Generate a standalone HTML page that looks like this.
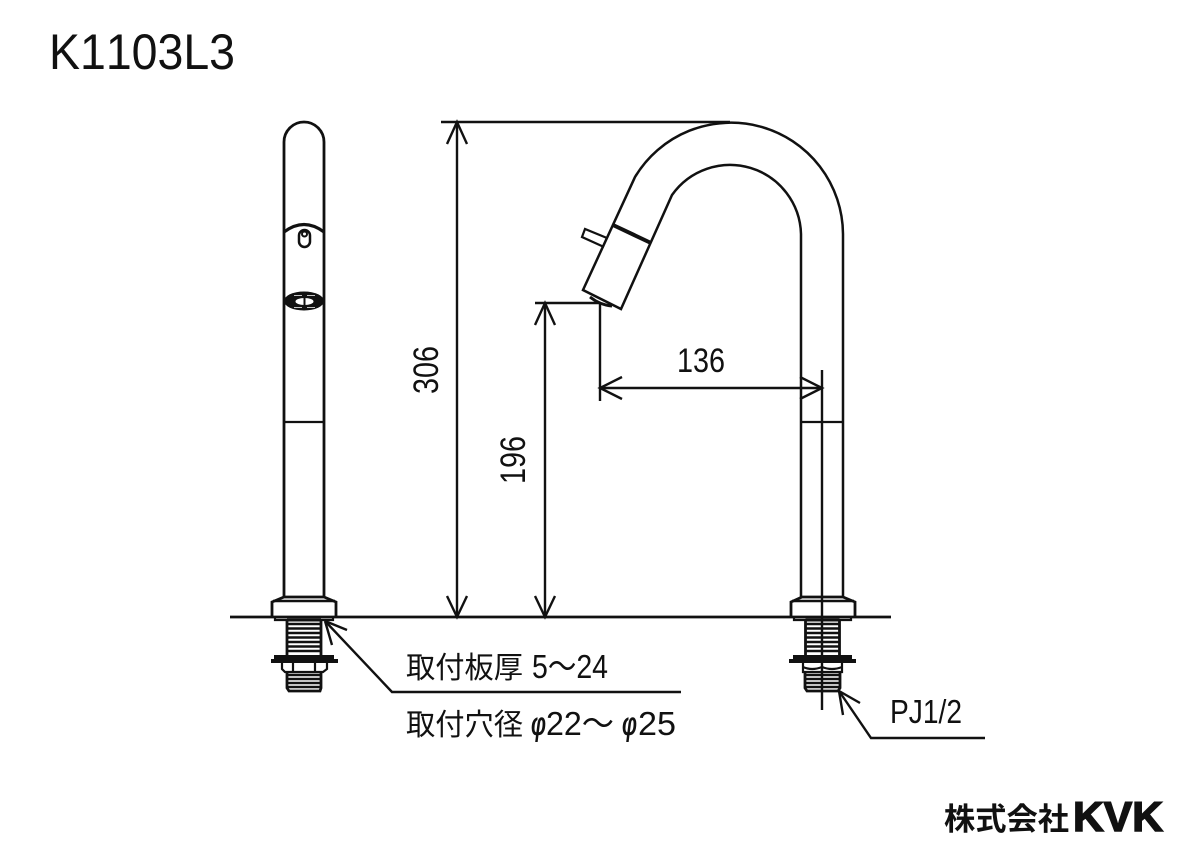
<!DOCTYPE html>
<html><head><meta charset="utf-8"><style>
html,body{margin:0;padding:0;background:#fff}
svg{display:block}
text{fill:#111;font-family:"Liberation Sans","Noto Sans CJK JP",sans-serif;font-kerning:none}
</style></head><body>
<svg width="1200" height="856" viewBox="0 0 1200 856" xmlns="http://www.w3.org/2000/svg">
<defs>
<g id="thread" fill="none" stroke="#111">
<path stroke-width="2.800" d="M-17 620V655M17 620V655"/>
<path stroke-width="2.500" d="M-17 624H17M-17 628.500H17M-17 633H17M-17 637.500H17M-17 642H17M-17 646.500H17M-17 651H17"/>
<path stroke-width="3" d="M-17 620H17"/>
</g>
</defs>
<rect width="1200" height="856" fill="#fff"/>
<text x="49" y="69" font-size="50" textLength="186" lengthAdjust="spacingAndGlyphs">K1103L3</text>

<!-- left faucet -->
<g fill="none" stroke="#111" stroke-width="2.800">
<path d="M284 597V142A20 20 0 0 1 324 142V597"/>
<path d="M284 232Q304 217 324 232" stroke-width="3.200"/>
<rect x="299" y="230" width="11" height="17" rx="5.500" stroke-width="2.500"/>
<circle cx="304.500" cy="234" r="2.500" stroke-width="2"/>
<path d="M284 422H324" stroke-width="2.200"/>
</g>
<ellipse cx="304" cy="301" rx="20" ry="9.500" fill="#111"/>
<ellipse cx="304.500" cy="301.500" rx="9" ry="3.500" fill="#fff"/>
<path d="M304.500 297V306" stroke="#111" stroke-width="2"/>
<path d="M294 295.500H302M307 295.500H315M294 307.500H302M307 307.500H315" stroke="#fff" stroke-width="0.800" fill="none"/>

<!-- left base -->
<g fill="none" stroke="#111" stroke-width="2.800">
<path d="M272 617V602L284 597H324L336 602V617"/>
<path d="M273 601H335" stroke-width="2.500"/>
<path d="M275 617V620H333V617" stroke-width="2.200"/>
</g>
<g transform="translate(304,0)"><use href="#thread"/></g>
<path d="M274 655H334V659H338V663H271V659H274Z" fill="#111"/>
<path d="M282 663V669L285 672H323L327 669V663M293 663V672M315 663V672" fill="none" stroke="#111" stroke-width="2.200"/>
<path d="M287 672V688L289 691H320L321 688V672" fill="none" stroke="#111" stroke-width="2.800"/>
<path d="M287 675H321M287 679H321M287 683H321M287 687H321" stroke="#111" stroke-width="2.500"/>

<!-- right faucet -->
<g fill="none" stroke="#111" stroke-width="2.500">
<path d="M843 597V234A112 112 0 0 0 635 177L583 290L621 309L672 195A71 71 0 0 1 801 234V597"/>
<path d="M607 238L585 229L582 237L604 247" stroke-width="2.200"/>
<path d="M613 225L651 243" stroke-width="4"/>
<path d="M590 297Q600 305 612 306" stroke-width="3"/>
<path d="M801 422H843" stroke-width="2.200"/>
</g>

<!-- right base -->
<g fill="none" stroke="#111" stroke-width="2.800">
<path d="M791 617V602L802 597H843L855 602V617"/>
<path d="M792 601H854" stroke-width="2.500"/>
<path d="M794 617V620H851V617" stroke-width="2.200"/>
</g>
<g transform="translate(822.500,0)"><use href="#thread"/></g>
<path d="M793 655H852V659H856V663H789V659H793Z" fill="#111"/>
<path d="M803 663V672H842V663M803 667Q812 671 822 667Q832 671 842 667" fill="none" stroke="#111" stroke-width="2.200"/>
<path d="M805 672V688L807 691H838L840 688V672" fill="none" stroke="#111" stroke-width="2.800"/>
<path d="M805 675H840M805 679H840M805 683H840M805 687H840" stroke="#111" stroke-width="2.500"/>

<!-- floor and dimensions -->
<g fill="none" stroke="#111" stroke-width="2.400">
<path d="M230 617H891" stroke-width="2.800"/>
<path d="M441 122H730M457 122V617M535 303H600M545 303V617M600 303V401M600 388H822M822 370V710"/>
<path d="M447 144L457 122L467 144M447 596L457 617L467 596"/>
<path d="M535 325L545 303L555 325M535 596L545 617L555 596"/>
<path d="M622 377L600 388L622 399M800 377L822 388L800 399"/>
<path d="M325 621L392 692H681"/>
<path d="M325 621L347 630M325 621L332 645"/>
<path d="M839 691L871 738H985"/>
<path d="M839 691L860 703M839 691L843 715"/>
</g>

<text x="677" y="372" font-size="34" textLength="48" lengthAdjust="spacingAndGlyphs">136</text>
<text transform="translate(438,394) rotate(-90)" font-size="35" textLength="48" lengthAdjust="spacingAndGlyphs">306</text>
<text transform="translate(525,484) rotate(-90)" font-size="35" textLength="48" lengthAdjust="spacingAndGlyphs">196</text>

<text x="406" y="678" font-size="30" textLength="117" lengthAdjust="spacingAndGlyphs">取付板厚</text>
<text x="532" y="678" font-size="33" textLength="76" lengthAdjust="spacingAndGlyphs">5～24</text>
<text x="406" y="735" font-size="30" textLength="117" lengthAdjust="spacingAndGlyphs">取付穴径</text>
<text x="531" y="735" font-size="33" font-style="italic" font-weight="700" textLength="15" lengthAdjust="spacingAndGlyphs">φ</text>
<text x="546" y="735" font-size="33" textLength="68" lengthAdjust="spacingAndGlyphs">22～</text>
<text x="622" y="735" font-size="33" font-style="italic" font-weight="700" textLength="15" lengthAdjust="spacingAndGlyphs">φ</text>
<text x="638" y="735" font-size="33" textLength="38" lengthAdjust="spacingAndGlyphs">25</text>
<text x="890" y="723" font-size="33" textLength="72" lengthAdjust="spacingAndGlyphs">PJ1/2</text>
<text x="944" y="830" font-size="31" font-weight="700" textLength="125" lengthAdjust="spacingAndGlyphs">株式会社</text>
<text x="1073" y="831" font-size="42" font-weight="700" stroke="#111" stroke-width="1.500" textLength="90" lengthAdjust="spacingAndGlyphs">KVK</text>
</svg>
</body></html>
